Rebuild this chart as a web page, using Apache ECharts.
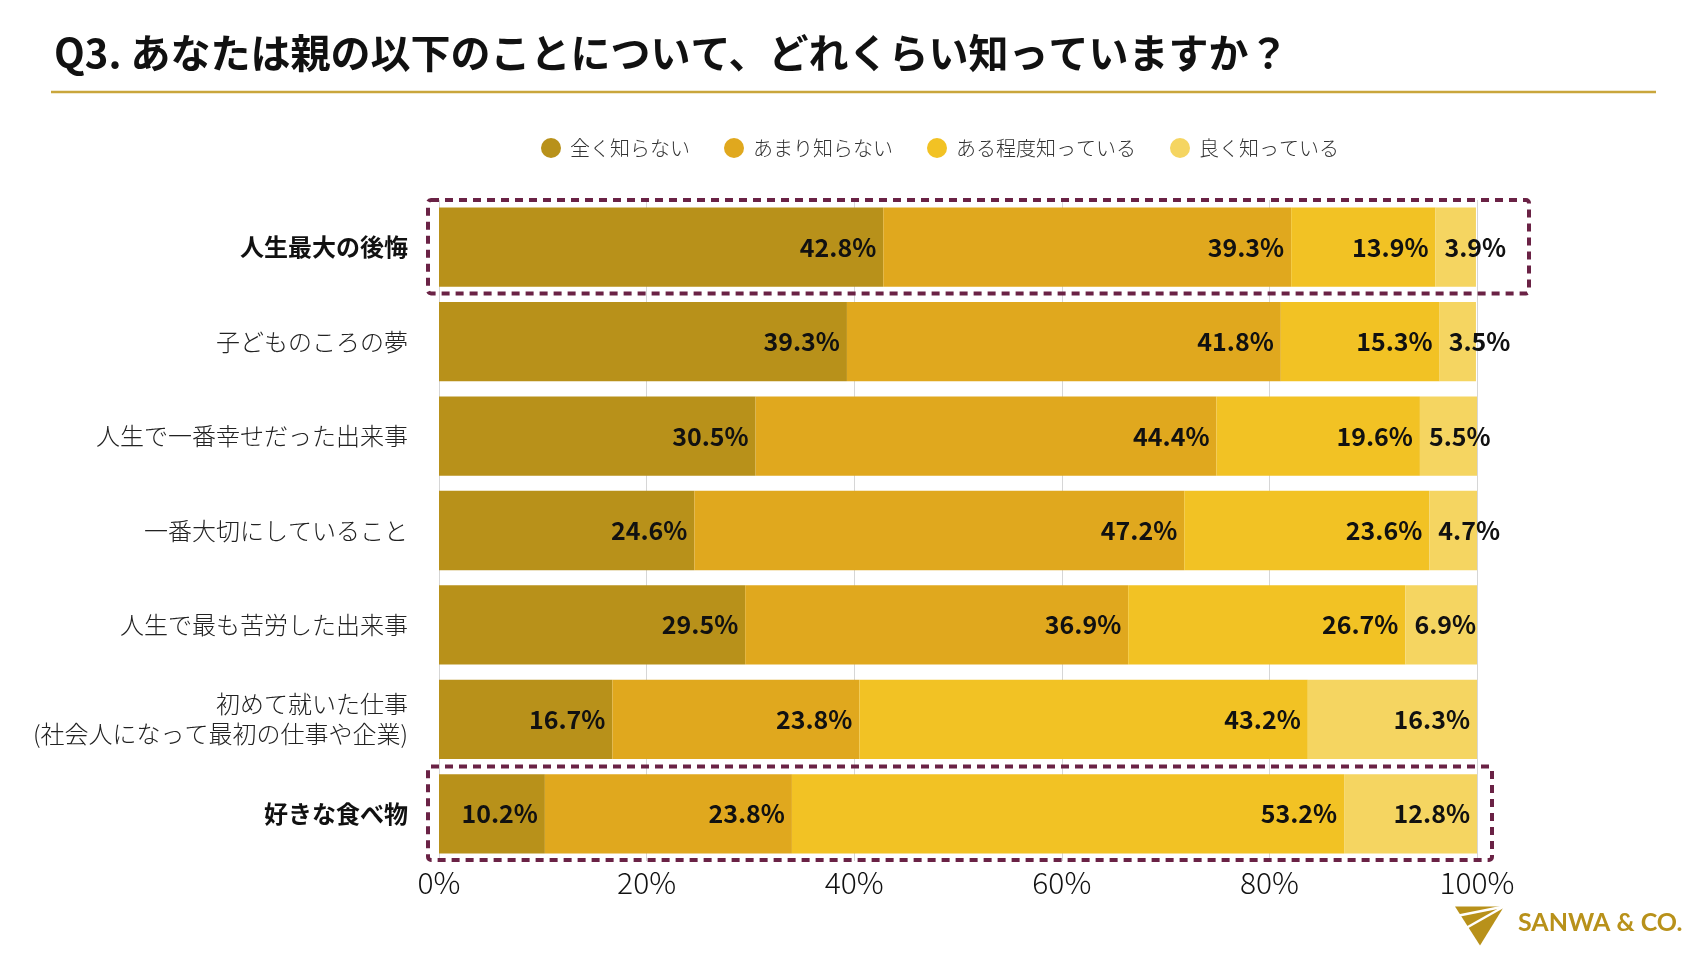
<!DOCTYPE html>
<html>
<head>
<meta charset="utf-8">
<title>Q3</title>
<script src="https://cdn.jsdelivr.net/npm/echarts@6/dist/echarts.min.js"></script>
<style>
  html, body { margin: 0; padding: 0; background: #fff; }
  #main { width: 1707px; height: 960px; }
</style>
</head>
<body>
<div id="main"></div>
<script>
// 項目
var categories = [
  '人生最大の後悔',
  '子どものころの夢',
  '人生で一番幸せだった出来事',
  '一番大切にしていること',
  '人生で最も苦労した出来事',
  '初めて就いた仕事\n(社会人になって最初の仕事や企業)',
  '好きな食べ物'
];
var seriesNames = ['全く知らない', 'あまり知らない', 'ある程度知っている', '良く知っている'];
var notAtAll = [42.8, 39.3, 30.5, 24.6, 29.5, 16.7, 10.2];
var notMuch = [39.3, 41.8, 44.4, 47.2, 36.9, 23.8, 23.8];
var somewhat = [13.9, 15.3, 19.6, 23.6, 26.7, 43.2, 53.2];
var well = [3.9, 3.5, 5.5, 4.7, 6.9, 16.3, 12.8];
var xTicks = [0, 20, 40, 60, 80, 100];
// 強調する項目
var highlighted = ['人生最大の後悔', '好きな食べ物'];

var colors = ['#b8911a', '#e0a81e', '#f2c224', '#f5d561'];
var FONT = '"Noto Sans CJK JP", "Noto Sans", sans-serif';

var chart = echarts.init(document.getElementById('main'));

function makeSeries(name, data, idx) {
  return {
    name: name,
    type: 'bar',
    stack: 'total',
    barCategoryGap: '16%',
    itemStyle: { color: colors[idx] },
    data: data.map(function (v) {
      var item = { value: v };
      // 幅が狭い最後の区間はラベルを左寄せ（バーからはみ出す）
      if (idx === 3 && v < 10) {
        item.label = { position: 'insideLeft', distance: 9 };
      }
      return item;
    }),
    label: {
      show: true,
      position: 'insideRight',
      distance: 7,
      color: '#111',
      fontFamily: FONT,
      fontWeight: 'bold',
      fontSize: 25,
      formatter: function (p) { return p.value.toFixed(1) + '%'; }
    }
  };
}

var option = {
  backgroundColor: '#fff',
  animation: false,
  title: {
    text: 'Q3. あなたは親の以下のことについて、どれくらい知っていますか？',
    left: 49,
    top: 28,
    textStyle: {
      fontFamily: FONT,
      fontWeight: 'bold',
      fontSize: 40,
      color: '#111'
    }
  },
  legend: {
    data: seriesNames,
    left: 536,
    top: 133,
    icon: 'circle',
    itemWidth: 20,
    itemHeight: 20,
    itemGap: 34,
    textStyle: {
      fontFamily: FONT,
      fontWeight: 300,
      fontSize: 20,
      color: '#333',
      padding: [0, 0, 0, 4]
    }
  },
  grid: {
    left: 439,
    right: 230,
    top: 200,
    bottom: 99,
    containLabel: false
  },
  xAxis: {
    type: 'value',
    min: 0,
    max: 100,
    interval: 20,
    axisLine: { show: false },
    axisTick: { show: false },
    splitLine: { show: true, lineStyle: { color: '#d6d6d6', width: 1 } },
    axisLabel: {
      margin: 7,
      fontFamily: FONT,
      fontWeight: 300,
      fontSize: 30,
      color: '#111',
      formatter: function (v) { return xTicks.indexOf(v) >= 0 ? v + '%' : ''; }
    }
  },
  yAxis: {
    type: 'category',
    inverse: true,
    data: categories,
    axisLine: { show: false },
    axisTick: { show: false },
    axisLabel: {
      margin: 31,
      formatter: function (v) {
        var parts = v.split('\n');
        var style = highlighted.indexOf(v) >= 0 ? 'b' : 'n';
        return parts.map(function (s) { return '{' + style + '|' + s + '}'; }).join('\n');
      },
      rich: {
        n: { fontFamily: FONT, fontWeight: 300, fontSize: 24, color: '#222', lineHeight: 30, align: 'right' },
        b: { fontFamily: FONT, fontWeight: 'bold', fontSize: 24, color: '#111', lineHeight: 30, align: 'right' }
      }
    }
  },
  series: [
    makeSeries(seriesNames[0], notAtAll, 0),
    makeSeries(seriesNames[1], notMuch, 1),
    makeSeries(seriesNames[2], somewhat, 2),
    makeSeries(seriesNames[3], well, 3)
  ]
};

chart.setOption(option);

// 強調枠・見出し線・ロゴ
function boxFor(cat, rightPad) {
  var c0 = chart.convertToPixel({ gridIndex: 0 }, [0, categories[0]]);
  var c1 = chart.convertToPixel({ gridIndex: 0 }, [0, categories[1]]);
  var band = c1[1] - c0[1];
  var p0 = chart.convertToPixel({ gridIndex: 0 }, [0, cat]);
  var p1 = chart.convertToPixel({ gridIndex: 0 }, [100, cat]);
  var x = p0[0] - 11;
  var y = p0[1] - band / 2;
  return {
    type: 'rect',
    z: 100,
    shape: { x: x, y: y, width: p1[0] + rightPad - x, height: band - 1, r: 3 },
    style: { fill: 'none', stroke: '#6a2245', lineWidth: 4, lineDash: [8, 6] }
  };
}

chart.setOption({
  graphic: [
    {
      type: 'line',
      shape: { x1: 51, y1: 92, x2: 1656, y2: 92 },
      style: { stroke: '#c9a63c', lineWidth: 2.5 }
    },
    boxFor(categories[0], 52),
    boxFor(categories[6], 15),
    {
      type: 'group',
      left: 1455,
      top: 904,
      children: [
        {
          type: 'polygon',
          shape: { points: [[0, 0], [49, 0], [25, 39]] },
          style: { fill: '#b8911a' }
        },
        {
          type: 'polyline',
          shape: { points: [[49, 0], [4, 9]] },
          style: { stroke: '#fff', lineWidth: 2.5 }
        },
        {
          type: 'polyline',
          shape: { points: [[49, 0], [12, 21]] },
          style: { stroke: '#fff', lineWidth: 2.5 }
        }
      ]
    },
    {
      type: 'text',
      left: 1518,
      top: 910,
      style: {
        text: 'SANWA & CO.',
        fill: '#b8911a',
        font: 'bold 25px Lato, "Open Sans", sans-serif'
      }
    }
  ]
});
</script>
</body>
</html>
